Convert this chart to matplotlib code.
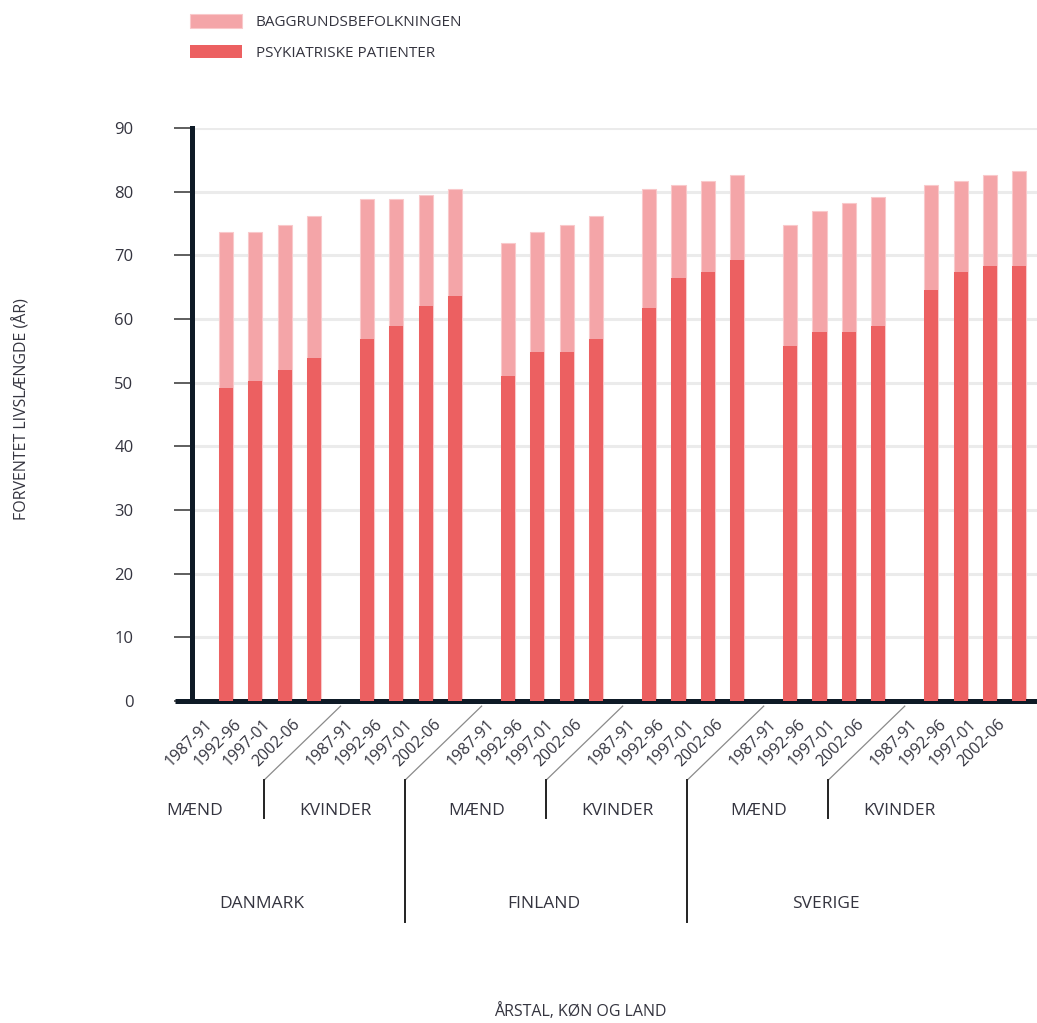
import matplotlib
matplotlib.use("Agg")
import matplotlib.pyplot as plt
from matplotlib.transforms import blended_transform_factory

# forventet levealder, baggrundsbefolkning vs. psykiatriske patienter
periods = ["1987-91", "1992-96", "1997-01", "2002-06"]
countries = ["DANMARK", "FINLAND", "SVERIGE"]
sexes = ["MÆND", "KVINDER"]

baggrund = {
    ("DANMARK", "MÆND"): [73.6, 73.6, 74.8, 76.1],
    ("DANMARK", "KVINDER"): [78.8, 78.8, 79.5, 80.4],
    ("FINLAND", "MÆND"): [72.0, 73.6, 74.8, 76.1],
    ("FINLAND", "KVINDER"): [80.4, 81.0, 81.7, 82.6],
    ("SVERIGE", "MÆND"): [74.8, 77.0, 78.2, 79.2],
    ("SVERIGE", "KVINDER"): [81.0, 81.7, 82.6, 83.3],
}
patienter = {
    ("DANMARK", "MÆND"): [49.2, 50.2, 52.0, 53.9],
    ("DANMARK", "KVINDER"): [56.8, 58.9, 62.0, 63.6],
    ("FINLAND", "MÆND"): [51.0, 54.8, 54.8, 56.8],
    ("FINLAND", "KVINDER"): [61.7, 66.4, 67.3, 69.3],
    ("SVERIGE", "MÆND"): [55.7, 57.9, 57.9, 58.9],
    ("SVERIGE", "KVINDER"): [64.5, 67.3, 68.3, 68.3],
}

PINK = "#f4a5a8"
RED = "#ec6061"
TXT = "#34343f"
AXC = "#0e1a26"

plt.rcParams["font.family"] = ["Open Sans", "DejaVu Sans"]

fig = plt.figure(figsize=(10.37, 10.23), dpi=100)
ax = fig.add_axes([0.185, 0.3148, 0.815, 0.5601])

group_step = 4.8
width = 0.48
xs_all = []
for ci, country in enumerate(countries):
    for si, sex in enumerate(sexes):
        g = ci * 2 + si
        xs = [g * group_step + i for i in range(len(periods))]
        xs_all.append(xs)
        ax.bar(xs, baggrund[(country, sex)], width=width, color=PINK,
               edgecolor="#f9c9cb", linewidth=0.8, zorder=2,
               label="BAGGRUNDSBEFOLKNINGEN" if g == 0 else None)
        ax.bar(xs, patienter[(country, sex)], width=width, color=RED,
               linewidth=0, zorder=3,
               label="PSYKIATRISKE PATIENTER" if g == 0 else None)

ax.set_xlim(-1.16, 27.6)
ax.set_ylim(0, 90)
ax.set_yticks(range(0, 91, 10))
ax.yaxis.grid(True, color="#ebebeb", linewidth=2.2, zorder=0)
ax.set_axisbelow(True)
ax.set_xticks([])

for side in ["top", "right"]:
    ax.spines[side].set_visible(False)
ax.spines["left"].set_color(AXC)
ax.spines["left"].set_linewidth(3.6)
ax.spines["bottom"].set_color(AXC)
ax.spines["bottom"].set_linewidth(3.6)
ax.tick_params(axis="y", length=13, width=1.1, color="#333333",
               pad=29, labelsize=12, labelcolor=TXT)
# nul-linjen går lidt ud til venstre for y-aksen
ax.plot([-0.0205, 0], [0, 0], transform=ax.transAxes, color=AXC, lw=3.6,
        solid_capstyle="butt", clip_on=False, zorder=5)

trans = blended_transform_factory(ax.transData, ax.transAxes)

# periode-etiketter under hver søjle
for xs in xs_all:
    for x, p in zip(xs, periods):
        ax.text(x - 0.55, -0.037, p, transform=trans,
                rotation=45, rotation_mode="anchor", ha="right", va="center",
                fontsize=11.5, color=TXT, clip_on=False)

# skillelinjer mellem køn og lande
for g in range(5):
    mid = g * group_step + 3.9
    low = -0.386 if g % 2 == 1 else -0.204
    ax.plot([mid, mid - 2.6], [-0.009, -0.138], color="#8a8a8a", lw=0.9,
            transform=trans, clip_on=False)
    ax.plot([mid - 2.6, mid - 2.6], [-0.138, low], color="#222222", lw=1.4,
            transform=trans, clip_on=False)

for g in range(6):
    ax.text(g * group_step - 1.07, -0.192, sexes[g % 2], transform=trans,
            ha="center", va="center", fontsize=12.5, color=TXT)
for ci, country in enumerate(countries):
    ax.text(ci * 2 * group_step + 1.22, -0.354, country, transform=trans,
            ha="center", va="center", fontsize=12.5, color=TXT)

fig.text(22 / 1037, 1 - 409 / 1023, "FORVENTET LIVSLÆNGDE (ÅR)", rotation=90,
         ha="center", va="center", fontsize=11.5, color=TXT)
fig.text(580 / 1037, 1 - 1012 / 1023, "ÅRSTAL, KØN OG LAND",
         ha="center", va="center", fontsize=11.5, color=TXT)

fig.legend(loc="upper left", bbox_to_anchor=(190 / 1037, 1 - 14 / 1023),
           frameon=False, fontsize=11, handlelength=3.4, handleheight=1.0,
           handletextpad=0.9, labelspacing=0.95, borderpad=0, borderaxespad=0,
           labelcolor=TXT)

fig.savefig("out.png", dpi=100)
